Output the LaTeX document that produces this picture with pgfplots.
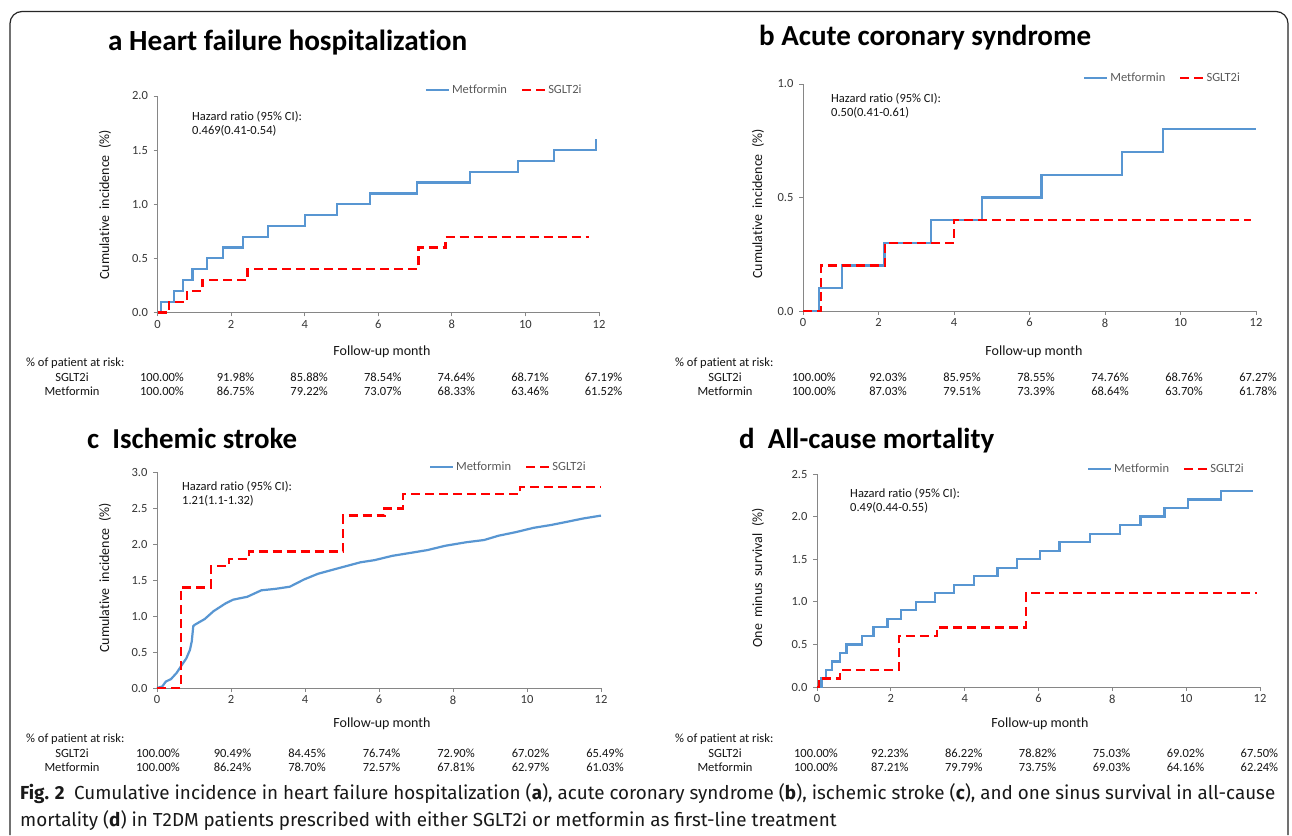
\documentclass[border=0pt]{standalone}
\usepackage{fontspec}
\setmainfont{Carlito}[Ligatures=NoCommon]
\newfontfamily\capfont{Fira Sans}
\usepackage{pgfplots}
\pgfplotsset{compat=1.18}
\definecolor{mblue}{RGB}{88,150,210}
\definecolor{sred}{RGB}{255,0,0}
\definecolor{axgray}{RGB}{134,134,134}
\definecolor{tickc}{RGB}{55,55,55}
\definecolor{legc}{RGB}{89,89,89}
\definecolor{txt}{RGB}{20,20,20}
\pgfplotsset{
 km/.style={scale only axis, axis lines*=left,
  axis line style={draw=axgray,line width=0.9pt,-},
  tick align=outside, major tick length=4pt,
  tick style={draw=axgray,line width=0.9pt},
  xmin=0, xmax=12, ymin=0, xtick={0,2,4,6,8,10,12},
  ticklabel style={font=\fontsize{12.5}{14}\selectfont, text=tickc},
  yticklabel style={xshift=-2pt},
  /pgf/number format/assume math mode=true,
  yticklabel style={/pgf/number format/fixed,/pgf/number format/fixed zerofill,/pgf/number format/precision=1},
  legend style={draw=none, fill=none, inner sep=0pt, font=\fontsize{12.5}{14}\selectfont, text=legc,
    legend columns=2, /tikz/every even column/.append style={column sep=12pt}, anchor=west, cells={anchor=west}},
  legend image code/.code={\draw[#1] (0pt,0pt) -- (23pt,0pt);},
  clip=false},
 mline/.style={color=mblue, line width=2.2pt, const plot},
 sline/.style={color=sred, line width=2.3pt, dash pattern=on 9pt off 5pt, const plot},
}
\begin{document}
\begin{tikzpicture}[x=1pt,y=1pt]
\fill[white] (0,0) rectangle (1292,835);

% ---------- a ----------
\begin{axis}[km, at={(157.5pt,522.5pt)}, anchor=south west, width=441.5pt, height=216.5pt,
  ymax=2, ytick={0,0.5,1,1.5,2}, legend style={at={(0.605,1.028)}}]
\addplot[mline] coordinates {(0,0) (0.10,0.1) (0.44,0.2) (0.70,0.3) (0.95,0.4) (1.34,0.5) (1.79,0.6) (2.33,0.7) (3.00,0.8) (4.00,0.9) (4.87,1.0) (5.77,1.1) (7.05,1.2) (8.50,1.3) (9.79,1.4) (10.78,1.5) (11.92,1.6)};
\addplot[sline] coordinates {(0,0) (0.31,0.1) (0.80,0.2) (1.22,0.3) (2.45,0.4) (7.09,0.6) (7.83,0.7) (11.73,0.7)};
\legend{Metformin, SGLT2i}
\end{axis}

% ---------- b ----------
\begin{axis}[km, at={(803pt,524pt)}, anchor=south west, width=453pt, height=227pt,
  ymax=1, ytick={0,0.5,1}, legend style={at={(0.618,1.026)}}]
\addplot[mline] coordinates {(0,0) (0.42,0.1) (1.04,0.2) (2.16,0.3) (3.38,0.4) (4.74,0.5) (6.32,0.6) (8.45,0.7) (9.54,0.8) (12,0.8)};
\addplot[sline] coordinates {(0,0) (0.48,0.2) (2.18,0.3) (4.00,0.4) (11.88,0.4)};
\legend{Metformin, SGLT2i}
\end{axis}

% ---------- c ----------
\begin{axis}[km, at={(157pt,147pt)}, anchor=south west, width=444pt, height=215.5pt,
  ymax=3, ytick={0,0.5,1,1.5,2,2.5,3}, legend style={at={(0.612,1.0255)}}]
\addplot[color=mblue, line width=2.2pt] coordinates {(0,0) (0.14,0.02) (0.24,0.09) (0.38,0.125) (0.53,0.21) (0.67,0.32) (0.79,0.41) (0.89,0.53) (0.94,0.65) (0.98,0.86) (1.02,0.88) (1.29,0.96) (1.53,1.07) (1.86,1.18) (2.06,1.23) (2.44,1.27) (2.82,1.36) (3.2,1.38) (3.59,1.41) (3.97,1.51) (4.35,1.59) (4.92,1.67) (5.5,1.75) (5.88,1.78) (6.36,1.84) (6.84,1.88) (7.31,1.92) (7.79,1.98) (8.37,2.03) (8.84,2.06) (9.23,2.12) (9.7,2.17) (10.18,2.23) (10.66,2.27) (11.14,2.32) (11.52,2.36) (12,2.40)};
\addplot[sline] coordinates {(0,0) (0.65,1.4) (1.46,1.7) (1.94,1.8) (2.49,1.9) (5.02,2.4) (6.15,2.5) (6.64,2.7) (9.82,2.8) (12,2.8)};
\legend{Metformin, SGLT2i}
\end{axis}

% ---------- d ----------
\begin{axis}[km, at={(817pt,148pt)}, anchor=south west, width=443pt, height=213pt,
  ymax=2.5, ytick={0,0.5,1,1.5,2,2.5}, legend style={at={(0.609,1.023)}}]
\addplot[mline] coordinates {(0,0) (0.12,0.1) (0.25,0.2) (0.41,0.3) (0.62,0.4) (0.80,0.5) (1.21,0.6) (1.53,0.7) (1.91,0.8) (2.28,0.9) (2.68,1.0) (3.19,1.1) (3.70,1.2) (4.26,1.3) (4.89,1.4) (5.42,1.5) (6.05,1.6) (6.57,1.7) (7.40,1.8) (8.20,1.9) (8.76,2.0) (9.41,2.1) (10.05,2.2) (10.94,2.3) (11.82,2.3)};
\addplot[sline] coordinates {(0,0) (0.05,0.1) (0.62,0.2) (2.23,0.6) (3.25,0.7) (5.66,1.1) (11.93,1.1)};
\legend{Metformin, SGLT2i}
\end{axis}

% ---------- texts (pixel coordinates, y downward) ----------
\begin{scope}[x=1pt,y=-1pt,yshift=835pt]
\draw[line width=1.2pt, color=black!85, rounded corners=12pt] (10,835) -- (10,11.5) -- (1288,11.5) -- (1288,835);

% titles
\node[anchor=base west, inner sep=0] at (108,51) {\resizebox{359pt}{!}{\bfseries\fontsize{29}{30}\selectfont a Heart failure hospitalization}};
\node[anchor=base west, inner sep=0] at (759,46) {\resizebox{332pt}{!}{\bfseries\fontsize{29}{30}\selectfont b Acute coronary syndrome}};
\node[anchor=base west, inner sep=0] at (87,449) {\resizebox{210pt}{!}{\bfseries\fontsize{29}{30}\selectfont c\ \ Ischemic stroke}};
\node[anchor=base west, inner sep=0] at (739,449) {\resizebox{255pt}{!}{\bfseries\fontsize{29}{30}\selectfont d\ \ All-cause mortality}};

\tikzset{t12/.style={font=\fontsize{12.5}{14}\selectfont, text=txt, inner sep=0pt},
         t13/.style={font=\fontsize{14}{16}\selectfont, text=txt, inner sep=0pt}}

% hazard ratios
\node[t12, anchor=base west] at (192,120.3) {Hazard ratio (95\% CI):};
\node[t12, anchor=base west] at (192,134.3) {0.469(0.41-0.54)};
\node[t12, anchor=base west] at (831,102.6) {Hazard ratio (95\% CI):};
\node[t12, anchor=base west] at (831,117) {0.50(0.41-0.61)};
\node[t12, anchor=base west] at (182,490.3) {Hazard ratio (95\% CI):};
\node[t12, anchor=base west] at (182,504.3) {1.21(1.1-1.32)};
\node[t12, anchor=base west] at (850,497.3) {Hazard ratio (95\% CI):};
\node[t12, anchor=base west] at (850,511.3) {0.49(0.44-0.55)};

% axis titles
\node[t13, rotate=90] at (105,205) {Cumulative\ \ incidence\ \ (\%)};
\node[t13, rotate=90] at (758,204) {Cumulative\ \ incidence\ \ (\%)};
\node[t13, rotate=90] at (105,578) {Cumulative\ \ incidence\ \ (\%)};
\node[t13, rotate=90] at (758,578) {One\ \ minus\ \ survival\ \ (\%)};
\node[t13, anchor=base] at (382,356) {Follow-up month};
\node[t13, anchor=base] at (1034,356) {Follow-up month};
\node[t13, anchor=base] at (382,728) {Follow-up month};
\node[t13, anchor=base] at (1040,728) {Follow-up month};

% at-risk tables
\node[t12, anchor=base west] at (26,366.5) {\% of patient at risk:};
\node[t12, anchor=base] at (72,381.5) {SGLT2i};
\node[t12, anchor=base] at (72,395.5) {Metformin};
\foreach \v [count=\i from 0] in {100.00,91.98,85.88,78.54,74.64,68.71,67.19}
  \node[t12, anchor=base] at ({162+\i*73.6},381.5) {\v\%};
\foreach \v [count=\i from 0] in {100.00,86.75,79.22,73.07,68.33,63.46,61.52}
  \node[t12, anchor=base] at ({162+\i*73.6},395.5) {\v\%};

\node[t12, anchor=base west] at (675,366.5) {\% of patient at risk:};
\node[t12, anchor=base] at (725,381.5) {SGLT2i};
\node[t12, anchor=base] at (725,395.5) {Metformin};
\foreach \v [count=\i from 0] in {100.00,92.03,85.95,78.55,74.76,68.76,67.27}
  \node[t12, anchor=base] at ({814+\i*74},381.5) {\v\%};
\foreach \v [count=\i from 0] in {100.00,87.03,79.51,73.39,68.64,63.70,61.78}
  \node[t12, anchor=base] at ({814+\i*74},395.5) {\v\%};

\node[t12, anchor=base west] at (26,742.5) {\% of patient at risk:};
\node[t12, anchor=base] at (72,757.5) {SGLT2i};
\node[t12, anchor=base] at (72,771.5) {Metformin};
\foreach \v [count=\i from 0] in {100.00,90.49,84.45,76.74,72.90,67.02,65.49}
  \node[t12, anchor=base] at ({158+\i*74.5},757.5) {\v\%};
\foreach \v [count=\i from 0] in {100.00,86.24,78.70,72.57,67.81,62.97,61.03}
  \node[t12, anchor=base] at ({158+\i*74.5},771.5) {\v\%};

\node[t12, anchor=base west] at (675,742.5) {\% of patient at risk:};
\node[t12, anchor=base] at (725,757.5) {SGLT2i};
\node[t12, anchor=base] at (725,771.5) {Metformin};
\foreach \v [count=\i from 0] in {100.00,92.23,86.22,78.82,75.03,69.02,67.50}
  \node[t12, anchor=base] at ({816+\i*73.9},757.5) {\v\%};
\foreach \v [count=\i from 0] in {100.00,87.21,79.79,73.75,69.03,64.16,62.24}
  \node[t12, anchor=base] at ({816+\i*73.9},771.5) {\v\%};

% caption
\node[anchor=west, inner sep=0pt, text=black!90] at (20,807.5) {\resizebox{1255pt}{!}{\capfont\fontsize{19}{27}\selectfont
  \begin{tabular}{@{}l@{}}
  \textbf{Fig. 2}\enspace Cumulative incidence in heart failure hospitalization (\textbf{a}), acute coronary syndrome (\textbf{b}), ischemic stroke (\textbf{c}), and one sinus survival in all-cause\\
  mortality (\textbf{d}) in T2DM patients prescribed with either SGLT2i or metformin as first-line treatment
  \end{tabular}}};
\end{scope}
\pgfresetboundingbox
\useasboundingbox (0,0) rectangle (1292,835);
\end{tikzpicture}
\end{document}
